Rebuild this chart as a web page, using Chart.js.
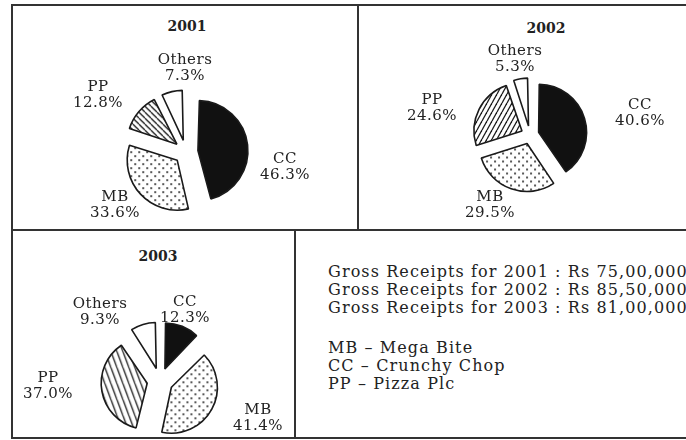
<!DOCTYPE html>
<html>
<head>
<meta charset="utf-8">
<title>Gross receipts share by chain, 2001-2003</title>
<script src="https://cdn.jsdelivr.net/npm/chart.js@4.4.1/dist/chart.umd.min.js"></script>
<style>
    html, body { margin: 0; padding: 0; background: #fff; overflow: hidden; }
    #page { position: relative; width: 686px; height: 440px; overflow: hidden; font-family: "DejaVu Serif", serif; color: #222; }
    .rule { position: absolute; background: #333; }
    .year { position: absolute; font-weight: bold; font-size: 14px; transform: translate(-50%, -50%); }
    .pie { position: absolute; }
    #notes { position: absolute; left: 328px; top: 263px; font-size: 16px; line-height: 18px; letter-spacing: 1.1px; white-space: nowrap; }
    #notes .gap { height: 22px; }
</style>
</head>
<body>
<div id="page">
    <div class="rule" style="left:11px; top:4px; width:680px; height:2px"></div>
    <div class="rule" style="left:11px; top:4px; width:2px; height:435px"></div>
    <div class="rule" style="left:11px; top:437px; width:680px; height:2px"></div>
    <div class="rule" style="left:11px; top:229px; width:680px; height:2px"></div>
    <div class="rule" style="left:357px; top:4px; width:2px; height:227px"></div>
    <div class="rule" style="left:294px; top:229px; width:2px; height:210px"></div>

    <div class="year" id="title2001" style="left:187px; top:26px"></div>
    <div class="year" id="title2002" style="left:546px; top:28px"></div>
    <div class="year" id="title2003" style="left:158px; top:256px"></div>

    <canvas class="pie" id="pie2001" width="280" height="220" style="left:46px; top:42px"></canvas>
    <canvas class="pie" id="pie2002" width="300" height="200" style="left:380px; top:35px"></canvas>
    <canvas class="pie" id="pie2003" width="300" height="190" style="left:10px; top:286px"></canvas>

    <div id="notes"></div>
</div>
<script>
// Data (clockwise from 12 o'clock)
const categories = ['CC', 'MB', 'PP', 'Others'];
const years = ['2001', '2002', '2003'];
const share2001 = [46.3, 33.6, 12.8, 7.3];
const share2002 = [40.6, 29.5, 24.6, 5.3];
const share2003 = [12.3, 41.4, 37.0, 9.3];
const grossReceipts = ['75,00,000', '85,50,000', '81,00,000'];
const shortNames = ['MB', 'CC', 'PP'];
const fullNames = ['Mega Bite', 'Crunchy Chop', 'Pizza Plc'];

// Fill textures like the printed figure
function hatch(w, h, rising) {
    const c = document.createElement('canvas');
    c.width = w;
    c.height = h;
    const g = c.getContext('2d');
    g.fillStyle = '#fff';
    g.fillRect(0, 0, w, h);
    g.strokeStyle = '#1a1a1a';
    g.lineWidth = 1.3;
    for (let k = -1; k <= 1; k++) {
        g.beginPath();
        if (rising) {
            g.moveTo(k * w, h);
            g.lineTo(k * w + w, 0);
        } else {
            g.moveTo(k * w, 0);
            g.lineTo(k * w + w, h);
        }
        g.stroke();
    }
    return g.createPattern(c, 'repeat');
}

function dots(step) {
    const c = document.createElement('canvas');
    c.width = step * 2;
    c.height = step * 2;
    const g = c.getContext('2d');
    g.fillStyle = '#fff';
    g.fillRect(0, 0, c.width, c.height);
    g.fillStyle = '#222';
    [[0.5, 0.5], [1.5, 1.5]].forEach(([a, b]) => {
        g.beginPath();
        g.arc(a * step, b * step, 1, 0, Math.PI * 2);
        g.fill();
    });
    return g.createPattern(c, 'repeat');
}

// Labels outside each slice + keep exploded slices at one radius
const sliceLabels = {
    id: 'sliceLabels',
    afterDatasetUpdate(chart, args) {
        // Chart.js grows an exploded arc by offset/4 * (1 - sin(sweep)); undo it
        const pulls = chart.data.datasets[0].offset;
        args.meta.data.forEach((arc, i) => {
            const sweep = arc.endAngle - arc.startAngle;
            arc.outerRadius -= pulls[i] / 4 * (1 - Math.sin(Math.min(Math.PI, sweep)));
        });
    },
    afterDatasetsDraw(chart, args, opts) {
        const ctx = chart.ctx;
        const meta = chart.getDatasetMeta(0);
        const values = chart.data.datasets[0].data;
        ctx.save();
        ctx.font = '15px "DejaVu Serif"';
        ctx.letterSpacing = '0.5px';
        ctx.fillStyle = '#222';
        ctx.textAlign = 'center';
        ctx.textBaseline = 'middle';
        meta.data.forEach((arc, i) => {
            const [dx, dy] = opts.shift[i];
            ctx.fillText(chart.data.labels[i], arc.x + dx, arc.y + dy - 8);
            ctx.fillText(values[i].toFixed(1) + '%', arc.x + dx, arc.y + dy + 8);
        });
        ctx.restore();
    }
};

function drawPie(id, values, hatchFill, radius, pull, shift) {
    const ctx = document.getElementById(id).getContext('2d');
    return new Chart(ctx, {
        type: 'pie',
        data: {
            labels: categories,
            datasets: [{
                data: values,
                backgroundColor: ['#111', dots(4), hatchFill, '#fff'],
                borderColor: '#1a1a1a',
                borderWidth: 1.6,
                offset: categories.map(() => pull * 4),
                radius: radius
            }]
        },
        options: {
            responsive: false,
            animation: false,
            events: [],
            layout: { padding: 0 },
            plugins: {
                legend: { display: false },
                tooltip: { enabled: false },
                sliceLabels: { shift: shift }
            }
        },
        plugins: [sliceLabels]
    });
}

years.forEach(y => {
    document.getElementById('title' + y).textContent = y;
});

drawPie('pie2001', share2001, hatch(6, 6, false), 50, 12,
    [[99, 15], [-71, 53], [-88, -57], [-1, -84]]);
drawPie('pie2002', share2002, hatch(5, 9, true), 48, 9,
    [[110, -22], [-40, 70], [-98, -27], [-15, -76]]);
drawPie('pie2003', share2003, hatch(6, 16, false), 46, 13,
    [[25, -71], [98, 37], [-112, 5], [-60, -69]]);

// Notes panel
const notes = document.getElementById('notes');
years.forEach((y, i) => {
    const row = document.createElement('div');
    row.textContent = `Gross Receipts for ${y} : Rs ${grossReceipts[i]}`;
    notes.appendChild(row);
});
const gap = document.createElement('div');
gap.className = 'gap';
notes.appendChild(gap);
shortNames.forEach((s, i) => {
    const row = document.createElement('div');
    row.textContent = `${s} – ${fullNames[i]}`;
    notes.appendChild(row);
});
</script>
</body>
</html>
